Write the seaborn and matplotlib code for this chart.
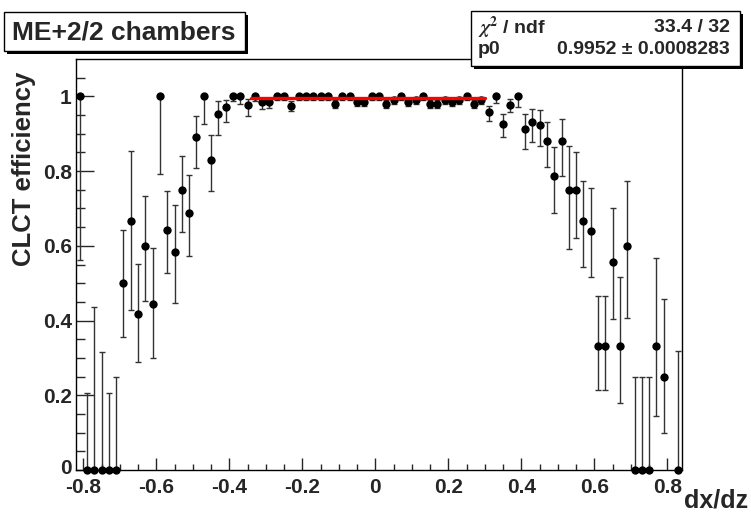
import numpy as np
import matplotlib
matplotlib.use("Agg")
import matplotlib.pyplot as plt
import matplotlib.transforms as mtransforms
from matplotlib.patches import Rectangle
import seaborn as sns

# CLCT efficiency vs dx/dz (one point per 0.02 bin, empty bins left out)
dxdz = [-0.81, -0.79, -0.77, -0.75, -0.73, -0.71, -0.69, -0.67, -0.65, -0.63,
        -0.61, -0.59, -0.57, -0.55, -0.53, -0.51, -0.49, -0.47, -0.45, -0.43,
        -0.41, -0.39, -0.37, -0.35, -0.33, -0.31, -0.29, -0.27, -0.25, -0.23,
        -0.21, -0.19, -0.17, -0.15, -0.13, -0.11, -0.09, -0.07, -0.05, -0.03,
        -0.01, 0.01, 0.03, 0.05, 0.07, 0.09, 0.11, 0.13, 0.15, 0.17,
        0.19, 0.21, 0.23, 0.25, 0.27, 0.29, 0.31, 0.33, 0.35, 0.37,
        0.39, 0.41, 0.43, 0.45, 0.47, 0.49, 0.51, 0.53, 0.55, 0.57,
        0.59, 0.61, 0.63, 0.65, 0.67, 0.69, 0.71, 0.73, 0.75, 0.77,
        0.79, 0.83]
eff = [1.0, 0, 0, 0, 0, 0, 0.5, 0.667, 0.417, 0.6,
       0.444, 1.0, 0.643, 0.583, 0.75, 0.6875, 0.892, 1.0, 0.831, 0.954,
       0.971, 1.0, 1.0, 0.978, 1.0, 0.985, 0.985, 1.0, 1.0, 0.975,
       1.0, 1.0, 1.0, 1.0, 1.0, 0.98, 1.0, 1.0, 0.985, 0.985,
       1.0, 1.0, 0.98, 0.99, 1.0, 0.985, 0.99, 1.0, 0.98, 0.98,
       0.99, 0.985, 0.99, 1.0, 0.98, 0.99, 0.958, 1.0, 0.926, 0.978,
       1.0, 0.913, 0.932, 0.924, 0.88, 0.788, 0.88, 0.75, 0.75, 0.667,
       0.64, 0.333, 0.333, 0.556, 0.333, 0.6, 0, 0, 0, 0.333,
       0.25, 0]
err_lo = [0.437, 0, 0, 0, 0, 0, 0.144, 0.239, 0.128, 0.147,
          0.144, 0.207, 0.115, 0.136, 0.113, 0.115, 0.083, 0.075, 0.084, 0.058,
          0.04, 0.012, 0.02, 0.03, 0.012, 0.02, 0.015, 0.01, 0.01, 0.015,
          0.01, 0.01, 0.01, 0.01, 0.01, 0.012, 0.01, 0.01, 0.012, 0.012,
          0.01, 0.01, 0.012, 0.01, 0.01, 0.012, 0.01, 0.01, 0.012, 0.012,
          0.01, 0.012, 0.01, 0.01, 0.012, 0.01, 0.023, 0.018, 0.034, 0.02,
          0.029, 0.053, 0.055, 0.057, 0.069, 0.099, 0.092, 0.159, 0.13, 0.123,
          0.124, 0.12, 0.12, 0.153, 0.153, 0.194, 0, 0, 0, 0.188,
          0.152, 0]
err_hi = [0, 0.205, 0.437, 0.317, 0.205, 0.248, 0.143, 0.188, 0.134, 0.133,
          0.151, 0, 0.105, 0.127, 0.09, 0.102, 0.056, 0, 0.065, 0.033,
          0.02, 0, 0, 0.015, 0, 0.01, 0.01, 0, 0, 0.012,
          0, 0, 0, 0, 0, 0.01, 0, 0, 0.01, 0.01,
          0, 0, 0.01, 0.008, 0, 0.01, 0.008, 0, 0.01, 0.01,
          0.008, 0.01, 0.008, 0, 0.01, 0.008, 0.015, 0, 0.027, 0.015,
          0, 0.04, 0.035, 0.039, 0.051, 0.077, 0.06, 0.118, 0.102, 0.106,
          0.115, 0.133, 0.133, 0.145, 0.183, 0.173, 0.249, 0.249, 0.249, 0.234,
          0.209, 0.318]

# constant fit
fit_range = [-0.34, 0.30]
p0 = 0.9952
p0_err = 0.0008283
chi2, ndf = 33.4, 32

x_ticks = [-0.8, -0.6, -0.4, -0.2, 0, 0.2, 0.4, 0.6, 0.8]
x_ticklabels = ["-0.8", "-0.6", "-0.4", "-0.2", "0", "0.2", "0.4", "0.6", "0.8"]
y_ticks = [0, 0.2, 0.4, 0.6, 0.8, 1.0]
y_ticklabels = ["0", "0.2", "0.4", "0.6", "0.8", "1"]

sns.set_style("ticks")
plt.rcParams["font.family"] = ["Liberation Sans", "DejaVu Sans"]
plt.rcParams["font.weight"] = "bold"
plt.rcParams["mathtext.fontset"] = "stix"

W, H = 751, 512
fig = plt.figure(figsize=(W / 100, H / 100), dpi=100)
ax = fig.add_axes([76 / W, 42 / H, 606 / W, 411 / H])

ax.errorbar(dxdz, eff, yerr=[err_lo, err_hi], fmt="none", ecolor="0.2",
            elinewidth=1.0, capsize=2, capthick=1.0, clip_on=False, zorder=2)
sns.scatterplot(x=dxdz, y=eff, color="black", s=36, edgecolor="black",
                linewidth=0, ax=ax, clip_on=False, zorder=3)
sns.lineplot(x=fit_range, y=[p0, p0], color="red", linewidth=2.4, ax=ax, zorder=4)

ax.set_xlim(-0.82, 0.84)
ax.set_ylim(0, 1.1)
ax.set_xticks(x_ticks)
ax.set_xticklabels(x_ticklabels)
ax.set_yticks(y_ticks)
ax.set_yticklabels(y_ticklabels)
ax.set_xticks(np.arange(-0.8, 0.84, 0.05), minor=True)
ax.set_yticks(np.arange(0, 1.1, 0.05), minor=True)
ax.tick_params(axis="x", which="major", direction="in", length=9, width=1, pad=6, labelsize=15)
ax.tick_params(axis="x", which="minor", direction="in", length=4.5, width=1)
ax.tick_params(axis="y", which="major", direction="in", length=13, width=1, pad=3, labelsize=15)
ax.tick_params(axis="y", which="minor", direction="in", length=6.5, width=1)
for lab in ax.get_xticklabels() + ax.get_yticklabels():
    lab.set_fontweight("bold")
# lift the y "0" a little so it sits clear of "-0.8", as in ROOT
zero_lab = ax.get_yticklabels()[0]
zero_lab.set_transform(zero_lab.get_transform() +
                       mtransforms.ScaledTranslation(0, 3 / 100, fig.dpi_scale_trans))
for sp in ax.spines.values():
    sp.set_visible(True)
    sp.set_linewidth(1)
    sp.set_color("black")
ax.set_xlabel("")
ax.set_ylabel("")

fig.text(24 / W, 1 - 72 / H, "CLCT efficiency", rotation=90, ha="center", va="top",
         fontsize=18.5, fontweight="bold")
fig.text(748 / W, 1 - 507 / H, "dx/dz", ha="right", va="baseline",
         fontsize=18, fontweight="bold")


def shadow_box(x0, y0, x1, y1, off=3):
    # pixel coords from top-left
    fig.patches.append(Rectangle(((x0 + off) / W, 1 - (y1 + off) / H), (x1 - x0) / W,
                                 (y1 - y0) / H, transform=fig.transFigure,
                                 facecolor="black", edgecolor="black", lw=0, zorder=5))
    fig.patches.append(Rectangle((x0 / W, 1 - y1 / H), (x1 - x0) / W, (y1 - y0) / H,
                                 transform=fig.transFigure, facecolor="white",
                                 edgecolor="black", lw=1, zorder=6))


shadow_box(4, 12, 245, 51)
fig.text(124 / W, 1 - 32 / H, "ME+2/2 chambers", ha="center", va="center",
         fontsize=19, fontweight="bold", zorder=7)

shadow_box(471, 11, 740, 66)
fig.text(478 / W, 1 - 28 / H, r"$\chi^{2}$ / ndf", ha="left", va="center",
         fontsize=14, fontweight="bold", zorder=7)
fig.text(730 / W, 1 - 28 / H, f"{chi2} / {ndf}", ha="right", va="center",
         fontsize=14, fontweight="bold", zorder=7)
fig.text(478 / W, 1 - 49 / H, "p0", ha="left", va="center",
         fontsize=14, fontweight="bold", zorder=7)
fig.text(730 / W, 1 - 49 / H, f"{p0} \u00b1 {p0_err}", ha="right", va="center",
         fontsize=14, fontweight="bold", zorder=7)

fig.savefig("out.png", dpi=100)
